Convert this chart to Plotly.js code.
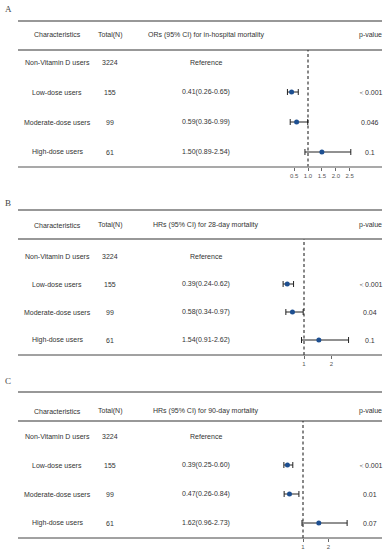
<!DOCTYPE html>
<html>
<head>
<meta charset="utf-8">
<script src="https://cdn.plot.ly/plotly-3.0.1.min.js"></script>
<style>html,body{margin:0;padding:0;background:#fff;}#chart{width:387px;height:550px;}</style>
</head>
<body>
<div id="chart"></div>
<script>
// ---- data ----
const categories = ["Non-Vitamin D users", "Low-dose users", "Moderate-dose users", "High-dose users"];
const totals = ["3224", "155", "99", "61"];
const panelLabels = ["A", "B", "C"];
const headerTitles = ["ORs (95% CI) for in-hospital mortality", "HRs (95% CI) for 28-day mortality", "HRs (95% CI) for 90-day mortality"];

const estA = [null, 0.41, 0.59, 1.50];
const lowA = [null, 0.26, 0.36, 0.89];
const highA = [null, 0.65, 0.99, 2.54];
const pA = ["", "＜0.001", "0.046", "0.1"];

const estB = [null, 0.39, 0.58, 1.54];
const lowB = [null, 0.24, 0.34, 0.91];
const highB = [null, 0.62, 0.97, 2.62];
const pB = ["", "＜0.001", "0.04", "0.1"];

const estC = [null, 0.39, 0.47, 1.62];
const lowC = [null, 0.25, 0.26, 0.96];
const highC = [null, 0.60, 0.84, 2.73];
const pC = ["", "＜0.001", "0.01", "0.07"];

const tickValsA = [0.5, 1.0, 1.5, 2.0, 2.5];
const tickValsBC = [1, 2];

// ---- layout geometry (pixels) ----
const W = 387, H = 550;
const px = x => x / W;
const py = y => 1 - y / H;

const geom = [
  {lab:[8,9], top:21, header:35, line2:50, rows:[62,93,123,152], bottom:167, x1:308, unit:27.8, bcol:'#8c8c8c', bw:1.6, ticks:tickValsA, fmt:'.1f'},
  {lab:[8,203], top:210, header:225, line2:239, rows:[256,283,312,340], bottom:355, x1:304, unit:27.5, bcol:'#444', bw:1, ticks:tickValsBC, fmt:'d'},
  {lab:[8,381], top:392, header:411, line2:421, rows:[436,465,493,523], bottom:538, x1:303, unit:25.5, bcol:'#444', bw:1, ticks:tickValsBC, fmt:'d'}
];
const series = [
  {est:estA, lo:lowA, hi:highA, p:pA},
  {est:estB, lo:lowB, hi:highB, p:pB},
  {est:estC, lo:lowC, hi:highC, p:pC}
];

const FONT = '"Liberation Sans", Arial, sans-serif';
const TXT = '#333';
const colX = {cat:57, tot:110, ci:206, p:370};
const plotDom = [262, 378];
const LX0 = 18, LX1 = 382;

const traces = [], shapes = [], annotations = [];
const layout = {
  width: W, height: H, autosize: false,
  margin: {l:0, r:0, t:0, b:0, pad:0},
  paper_bgcolor: '#fff', plot_bgcolor: 'rgba(0,0,0,0)',
  showlegend: false,
  font: {family: FONT, size: 7, color: TXT}
};

geom.forEach((g, k) => {
  const s = series[k];
  const sfx = k === 0 ? '' : String(k + 1);
  const xa = 'x' + sfx, ya = 'y' + sfx;
  const ppr = (g.rows[3] - g.rows[0]) / 3;
  const yTop = -(g.rows[0] - g.line2) / ppr;
  const yBot = 3 + (g.bottom - g.rows[3]) / ppr;
  const xr = [1 + (plotDom[0] - g.x1) / g.unit, 1 + (plotDom[1] - g.x1) / g.unit];

  layout['xaxis' + sfx] = {
    domain: [px(plotDom[0]), px(plotDom[1])], range: xr, anchor: ya,
    showgrid: false, zeroline: false, showline: false,
    tickvals: g.ticks, tickformat: g.fmt, ticks: 'outside', ticklen: 3, tickwidth: 0.8, tickcolor: '#444',
    tickfont: {family: FONT, size: 6, color: '#555'}, fixedrange: true
  };
  layout['yaxis' + sfx] = {
    domain: [py(g.bottom), py(g.line2)], range: [yBot, yTop], anchor: xa,
    showgrid: false, zeroline: false, showline: false, showticklabels: false, ticks: '', fixedrange: true
  };

  // forest points with CI
  const xs = [], ys = [], ep = [], em = [];
  s.est.forEach((v, i) => {
    if (v === null) return;
    xs.push(v); ys.push(i); ep.push(s.hi[i] - v); em.push(v - s.lo[i]);
  });
  traces.push({
    type: 'scatter', mode: 'markers', x: xs, y: ys, xaxis: xa, yaxis: ya,
    marker: {size: 5, color: '#1d4f91'},
    error_x: {type: 'data', symmetric: false, array: ep, arrayminus: em, color: '#222', thickness: 1, width: 3},
    hoverinfo: 'skip'
  });

  // reference dashed line
  shapes.push({type: 'line', xref: xa, yref: 'paper', x0: 1, x1: 1, y0: py(g.bottom), y1: py(g.line2),
    line: {color: '#111', width: 1, dash: '3px,2.5px'}});
  // horizontal rules
  shapes.push({type: 'line', xref: 'paper', yref: 'paper', x0: px(LX0), x1: px(LX1), y0: py(g.top), y1: py(g.top), line: {color: '#333', width: 1.2}});
  shapes.push({type: 'line', xref: 'paper', yref: 'paper', x0: px(LX0), x1: px(LX1), y0: py(g.line2), y1: py(g.line2), line: {color: '#333', width: 1.2}});
  shapes.push({type: 'line', xref: 'paper', yref: 'paper', x0: px(LX0), x1: px(LX1), y0: py(g.bottom), y1: py(g.bottom), line: {color: g.bcol, width: g.bw}});

  // panel label
  annotations.push({xref: 'paper', yref: 'paper', x: px(g.lab[0]), y: py(g.lab[1]), text: panelLabels[k], showarrow: false,
    xanchor: 'center', yanchor: 'middle', font: {family: '"Liberation Serif", "Times New Roman", serif', size: 9, color: '#444'}});

  // header
  const hdr = [["Characteristics", colX.cat], ["Total(N)", colX.tot], [headerTitles[k], colX.ci], ["p-value", colX.p]];
  hdr.forEach(([t, x]) => annotations.push({xref: 'paper', yref: 'paper', x: px(x), y: py(g.header), text: t, showarrow: false,
    xanchor: 'center', yanchor: 'middle', font: {family: FONT, size: 7, color: TXT}}));

  // rows
  categories.forEach((c, i) => {
    const ci = s.est[i] === null ? 'Reference' :
      s.est[i].toFixed(2) + '(' + s.lo[i].toFixed(2) + '-' + s.hi[i].toFixed(2) + ')';
    const cells = [[c, colX.cat], [totals[i], colX.tot], [ci, colX.ci], [s.p[i], colX.p]];
    cells.forEach(([t, x]) => {
      if (!t) return;
      annotations.push({xref: 'paper', yref: ya, x: px(x), y: i, text: t, showarrow: false,
        xanchor: 'center', yanchor: 'middle', font: {family: FONT, size: 7, color: TXT}});
    });
  });
});

layout.shapes = shapes;
layout.annotations = annotations;

Plotly.newPlot('chart', traces, layout, {displayModeBar: false, staticPlot: true});
</script>
</body>
</html>
